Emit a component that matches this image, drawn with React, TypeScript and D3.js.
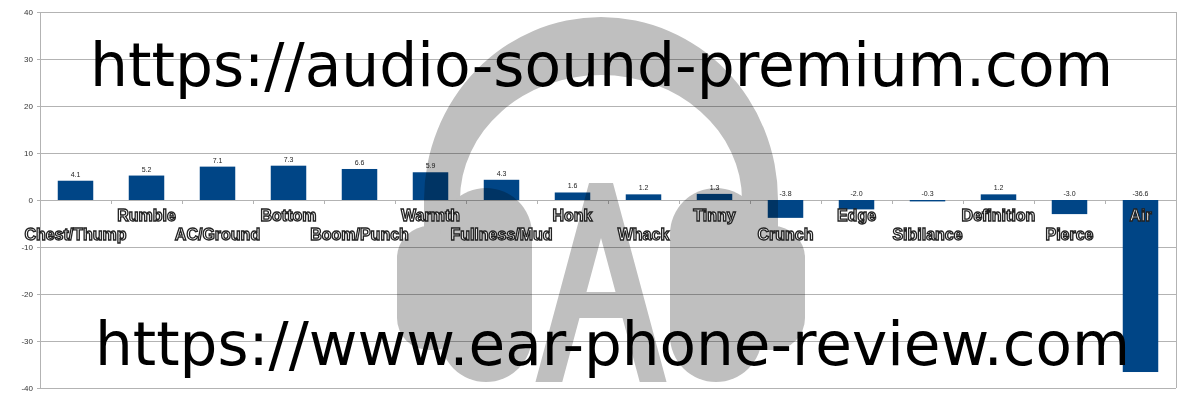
import { useEffect, useRef } from "react"
import * as d3 from "d3"

const categories = [
  "Chest/Thump", "Rumble", "AC/Ground", "Bottom", "Boom/Punch", "Warmth",
  "Fullness/Mud", "Honk", "Whack", "Tinny", "Crunch", "Edge",
  "Sibilance", "Definition", "Pierce", "Air",
]
const values = [4.1, 5.2, 7.1, 7.3, 6.6, 5.9, 4.3, 1.6, 1.2, 1.3, -3.8, -2.0, -0.3, 1.2, -3.0, -36.6]
const yTicks = [-40, -30, -20, -10, 0, 10, 20, 30, 40]
const watermarks = ["https://audio-sound-premium.com", "https://www.ear-phone-review.com"]

const W = 1200
const H = 400
const margin = { top: 12, right: 24, bottom: 12, left: 40 }
const BAR = "#004586"
const GRID = "#b3b3b3"

// headphone logo path, built around a centre x
function logoPaths(cx: number) {
  const band =
    `M ${cx - 177} 236 L ${cx - 177} 200 A 177 183 0 0 1 ${cx + 177} 200 L ${cx + 177} 236 ` +
    `L ${cx + 141} 236 L ${cx + 141} 200 A 141 125 0 0 0 ${cx - 141} 200 L ${cx - 141} 236 Z`
  const s = 0.269
  const top = 183, bot = 382, apex = 238, cb1 = 292, cb2 = 318
  const ow = (y: number) => 12 + (y - top) * s
  const iw = (y: number) => (y - apex) * s
  const letterA =
    `M ${cx - ow(bot)} ${bot} L ${cx - 12} ${top} L ${cx + 12} ${top} L ${cx + ow(bot)} ${bot} ` +
    `L ${cx + iw(bot)} ${bot} L ${cx + iw(cb2)} ${cb2} L ${cx - iw(cb2)} ${cb2} L ${cx - iw(bot)} ${bot} Z ` +
    `M ${cx} ${apex} L ${cx + iw(cb1)} ${cb1} L ${cx - iw(cb1)} ${cb1} Z`
  return { band, letterA }
}

export default function App() {
  const svgRef = useRef<SVGSVGElement>(null)

  useEffect(() => {
    if (!svgRef.current) return
    const svg = d3.select(svgRef.current)
    svg.selectAll("*").remove()

    const x0 = margin.left
    const x1 = W - margin.right
    const xScale = d3.scaleBand<string>().domain(categories).range([x0, x1]).paddingInner(0.5).paddingOuter(0.25)
    const yScale = d3.scaleLinear().domain([-40, 40]).range([H - margin.bottom, margin.top])
    const step = xScale.step()
    const zero = yScale(0)

    // Grid lines
    svg
      .append("g")
      .selectAll("line")
      .data(yTicks)
      .join("line")
      .attr("x1", x0 - 3)
      .attr("x2", x1)
      .attr("y1", (d) => yScale(d) + 0.5)
      .attr("y2", (d) => yScale(d) + 0.5)
      .attr("stroke", GRID)

    // frame sides
    svg
      .append("g")
      .selectAll("line")
      .data([x0, x1])
      .join("line")
      .attr("x1", (d) => d + 0.5)
      .attr("x2", (d) => d + 0.5)
      .attr("y1", yScale(40))
      .attr("y2", yScale(-40))
      .attr("stroke", GRID)

    // Y labels
    svg
      .append("g")
      .selectAll("text")
      .data(yTicks)
      .join("text")
      .attr("x", x0 - 7)
      .attr("y", (d) => yScale(d) + 3)
      .attr("text-anchor", "end")
      .attr("font-family", "Liberation Sans, Arial, sans-serif")
      .attr("font-size", 8)
      .attr("fill", "#333")
      .text((d) => d)

    // category ticks on zero line
    svg
      .append("g")
      .selectAll("line")
      .data(d3.range(1, categories.length))
      .join("line")
      .attr("x1", (i) => x0 + i * step + 0.5)
      .attr("x2", (i) => x0 + i * step + 0.5)
      .attr("y1", zero)
      .attr("y2", zero + 4)
      .attr("stroke", GRID)

    // Bars
    svg
      .append("g")
      .selectAll("rect")
      .data(values)
      .join("rect")
      .attr("x", (_, i) => xScale(categories[i]) as number)
      .attr("width", xScale.bandwidth())
      .attr("y", (d) => Math.min(yScale(d), zero))
      .attr("height", (d) => Math.abs(yScale(d) - zero))
      .attr("fill", BAR)

    // Value labels
    svg
      .append("g")
      .selectAll("text")
      .data(values)
      .join("text")
      .attr("x", (_, i) => (xScale(categories[i]) as number) + xScale.bandwidth() / 2)
      .attr("y", (d) => Math.min(yScale(d), zero) - 4)
      .attr("text-anchor", "middle")
      .attr("font-family", "Liberation Sans, Arial, sans-serif")
      .attr("font-size", 7)
      .attr("fill", "#222")
      .text((d) => d.toFixed(1))

    // Watermark logo
    const cx = 601
    const { band, letterA } = logoPaths(cx)
    const logo = svg.append("g").attr("fill", "#bfbfbf").style("mix-blend-mode", "multiply")
    logo.append("path").attr("d", band)
    ;[-1, 1].forEach((side) => {
      const shellX = side < 0 ? cx - 204 : cx + 204 - 70
      const padX = side < 0 ? cx - 161 : cx + 161 - 92
      logo.append("rect").attr("x", shellX).attr("y", 226).attr("width", 70).attr("height", 124).attr("rx", 32)
      logo.append("rect").attr("x", padX).attr("y", 188).attr("width", 92).attr("height", 194).attr("rx", 46)
    })
    logo.append("path").attr("d", letterA).attr("fill-rule", "evenodd")

    // Category labels (alternating rows, outlined)
    svg
      .append("g")
      .selectAll("text")
      .data(categories)
      .join("text")
      .attr("x", (d) => (xScale(d) as number) + xScale.bandwidth() / 2)
      .attr("y", (_, i) => (i % 2 === 0 ? zero + 40 : zero + 21))
      .attr("text-anchor", "middle")
      .attr("font-family", "Liberation Sans, Arial, sans-serif")
      .attr("font-weight", "bold")
      .attr("font-size", 16)
      .attr("fill", "#fff")
      .attr("stroke", "#222")
      .attr("stroke-width", 1.3)
      .text((d) => d)

    // Watermark URLs
    const urlPos = [
      { x: 90, y: 86, len: 1023 },
      { x: 95, y: 365, len: 1035 },
    ]
    svg
      .append("g")
      .selectAll("text")
      .data(watermarks)
      .join("text")
      .attr("x", (_, i) => urlPos[i].x)
      .attr("y", (_, i) => urlPos[i].y)
      .attr("textLength", (_, i) => urlPos[i].len)
      .attr("lengthAdjust", "spacingAndGlyphs")
      .attr("font-family", "DejaVu Sans, sans-serif")
      .attr("font-size", 60)
      .attr("fill", "#000")
      .text((d) => d)
  }, [])

  return (
    <div style={{ position: "absolute", left: 0, top: 0, width: W, height: H, background: "#fff" }}>
      <svg ref={svgRef} width={W} height={H} style={{ display: "block" }} />
    </div>
  )
}
